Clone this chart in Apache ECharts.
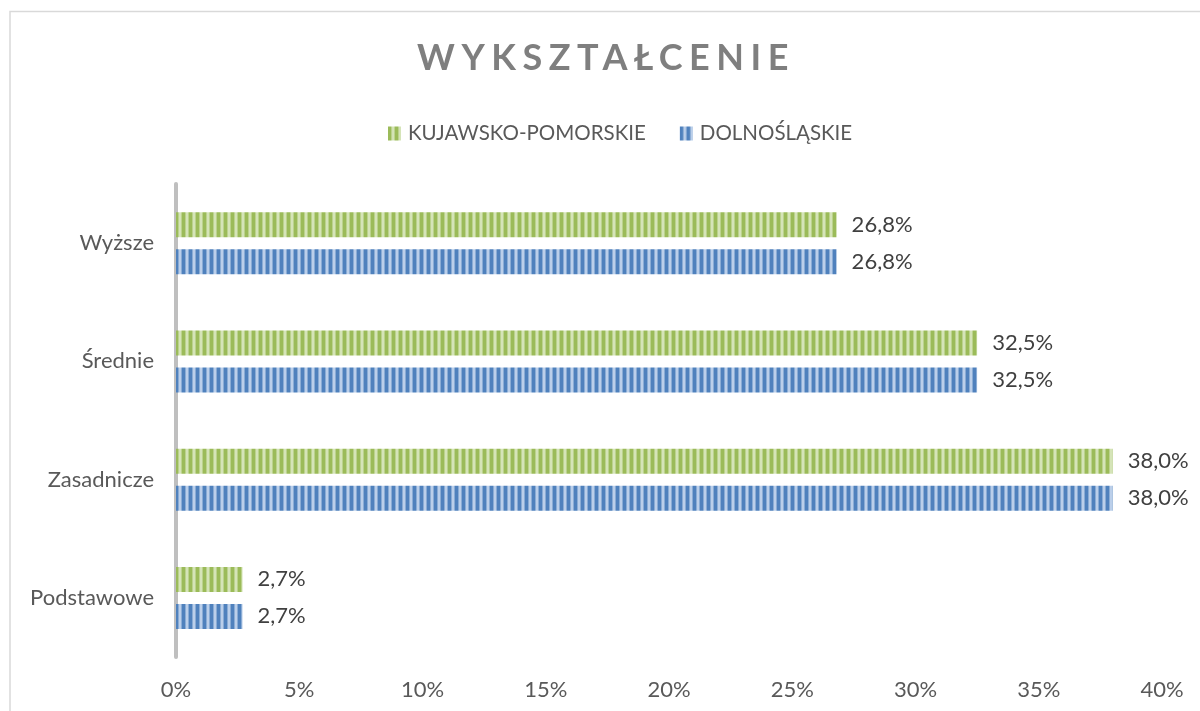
<!DOCTYPE html>
<html>
<head>
<meta charset="utf-8">
<script src="https://cdn.jsdelivr.net/npm/echarts@6/dist/echarts.min.js"></script>
<style>
    html, body { margin: 0; padding: 0; background: #fff; }
    #wrap { position: relative; width: 1200px; height: 711px; overflow: hidden; }
    #chart { width: 1200px; height: 711px; }
    #title {
        position: absolute; left: 0; width: 1212px; top: 34px;
        text-align: center; font-family: Lato, sans-serif; font-weight: bold;
        font-size: 36px; letter-spacing: 6.5px; color: #7f7f7f;
    }
</style>
</head>
<body>
<div id="wrap">
    <div id="chart"></div>
    <div id="title">WYKSZTAŁCENIE</div>
</div>
<script>
var categories = ['Podstawowe', 'Zasadnicze', 'Średnie', 'Wyższe'];
var kujawskoPomorskie = [2.7, 38.0, 32.5, 26.8];
var dolnoslaskie = [2.7, 38.0, 32.5, 26.8];
var seriesNames = ['KUJAWSKO-POMORSKIE', 'DOLNOŚLĄSKIE'];

function stripes(base, light) {
    var c = document.createElement('canvas');
    c.width = 7; c.height = 4;
    var ctx = c.getContext('2d');
    ctx.fillStyle = base;
    ctx.fillRect(0, 0, 7, 4);
    ctx.fillStyle = light;
    ctx.globalAlpha = 0.5;
    ctx.fillRect(3, 0, 1, 4);
    ctx.fillRect(6, 0, 1, 4);
    ctx.globalAlpha = 0.9;
    ctx.fillRect(4, 0, 2, 4);
    return { image: c, repeat: 'repeat' };
}

document.addEventListener('DOMContentLoaded', function () {
    var myChart = echarts.init(document.getElementById('chart'));
    var fmt = function (p) { return p.value.toFixed(1).replace('.', ',') + '%'; };
    var label = {
        show: true, position: 'right', distance: 15,
        fontFamily: 'Lato', fontSize: 22, color: '#404040', formatter: fmt
    };

    var option = {
        animation: false,
        textStyle: { fontFamily: 'Lato' },
        graphic: [{
            type: 'rect', silent: true,
            shape: { x: 10, y: 11.5, width: 1400, height: 900 },
            style: { fill: 'none', stroke: '#d9d9d9', lineWidth: 1.5 }
        }],
        legend: {
            data: seriesNames,
            top: 118, left: 383,
            icon: 'rect',
            itemWidth: 13, itemHeight: 14, itemGap: 34,
            textStyle: { fontFamily: 'Lato', fontSize: 20.5, color: '#595959', padding: [0, 0, 0, 2] }
        },
        grid: { left: 176, right: 38, top: 184, bottom: 54, containLabel: false },
        xAxis: {
            type: 'value', min: 0, max: 40, interval: 5,
            axisLine: { show: false }, axisTick: { show: false },
            splitLine: { show: false },
            axisLabel: { formatter: '{value}%', margin: 22, fontFamily: 'Lato', fontSize: 22, color: '#595959' }
        },
        yAxis: {
            type: 'category', data: categories,
            axisLine: { show: true, lineStyle: { color: '#bfbfbf', width: 4 } },
            axisTick: { show: false },
            axisLabel: { margin: 22, fontFamily: 'Lato', fontSize: 22, color: '#595959' }
        },
        series: [
            {
                name: seriesNames[0], type: 'bar', data: kujawskoPomorskie,
                barWidth: 25, barGap: '48%',
                itemStyle: { color: stripes('#9bbb59', '#dce9c2') },
                label: label
            },
            {
                name: seriesNames[1], type: 'bar', data: dolnoslaskie,
                barWidth: 25, barGap: '48%',
                itemStyle: { color: stripes('#4f81bd', '#c6d7ee') },
                label: label
            }
        ]
    };

    option && myChart.setOption(option);
});
</script>
</body>
</html>
